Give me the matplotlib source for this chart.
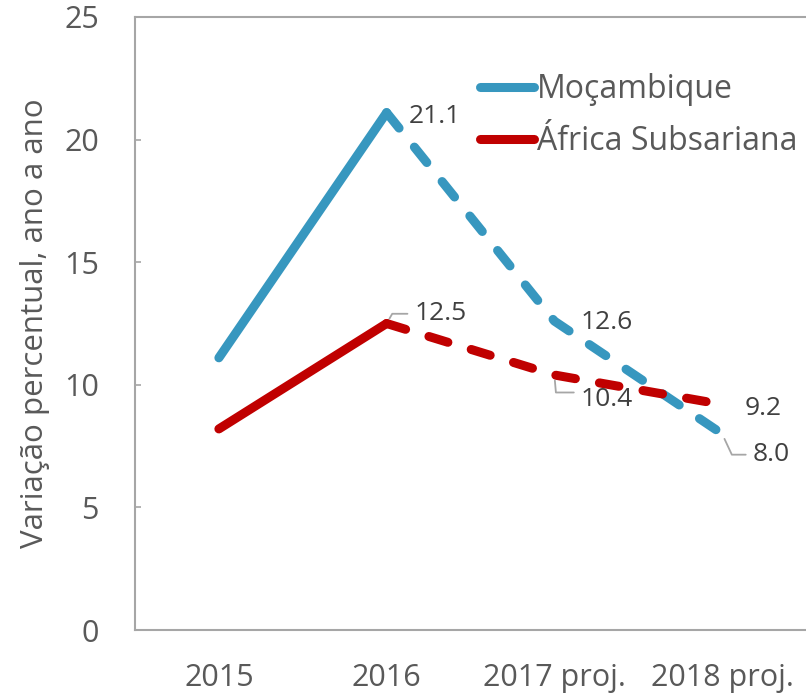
from matplotlib import pyplot as plt
import numpy as np

# %% Data

years = ['2015', '2016', '2017 proj.', '2018 proj.']
moz = [11.1, 21.1, 12.6, 8.0]
ssa = [8.2, 12.5, 10.4, 9.2]
last_actual = 1  # from here on values are projections

blue = '#3797bf'
red = '#c00000'
grey = '#595959'

plt.rcParams['font.family'] = ['Open Sans', 'DejaVu Sans']

# %% Plot

fig = plt.figure(figsize=(8.06, 6.99), dpi=100)
ax = fig.add_axes([135/806, 1-630/699, 1-135/806, (630-17)/699])

x = np.arange(len(years))
for vals, col, name in [(moz, blue, 'Moçambique'), (ssa, red, 'África Subsariana')]:
    ax.plot(x[:last_actual+1], vals[:last_actual+1], color=col, lw=6.5,
            solid_capstyle='round', solid_joinstyle='round', label=name)
    ax.plot(x[last_actual:], vals[last_actual:], color=col, lw=6.5,
            dashes=(2.2, 2.7), dash_capstyle='round', dash_joinstyle='round')

# data labels (series, index, offset in points, leader: angle, relpos y)
labels = [
    (moz, 1, (16, -3), None),
    (ssa, 1, (20, 7), (60, 0.5)),
    (moz, 2, (19, -1), None),
    (ssa, 2, (19, -18), (95, 0.8)),
    (ssa, 3, (16, -3), None),
    (moz, 3, (22, -15), (115, 0.5)),
]
for vals, i, off, lead in labels:
    kw = {}
    if lead:
        kw['arrowprops'] = dict(arrowstyle='-', color='#a6a6a6', lw=1.3,
                                shrinkA=3, shrinkB=4, relpos=(0, lead[1]),
                                connectionstyle=f'angle,angleA=0,angleB={lead[0]},rad=0')
    ax.annotate(f'{vals[i]:.1f}', (x[i], vals[i]), xytext=off,
                textcoords='offset points', fontsize=19, color='#404040',
                va='center', ha='left', **kw)

ax.set_xlim(-0.5, 3.5)
ax.set_ylim(0, 25)
ax.set_yticks(range(0, 26, 5))
ax.set_xticks(x)
ax.set_xticklabels(years)
ax.tick_params(length=0, labelsize=22, colors=grey)
ax.tick_params(axis='x', pad=24)
ax.tick_params(axis='y', direction='in', length=4, width=1.2, color='#a6a6a6', pad=26)
ax.set_ylabel('Variação percentual, ano a ano', fontsize=22.5, color=grey, labelpad=10)
for s in ['left', 'top', 'bottom']:
    ax.spines[s].set_color('#a6a6a6')
    ax.spines[s].set_linewidth(1.5)
ax.spines['right'].set_visible(False)

ax.legend(loc='upper left', bbox_to_anchor=(0.49, 0.935), frameon=False,
          fontsize=23, labelcolor=grey, handlelength=1.7, handletextpad=0.1,
          labelspacing=0.6, borderpad=0)

plt.savefig('out.png', dpi=100)
